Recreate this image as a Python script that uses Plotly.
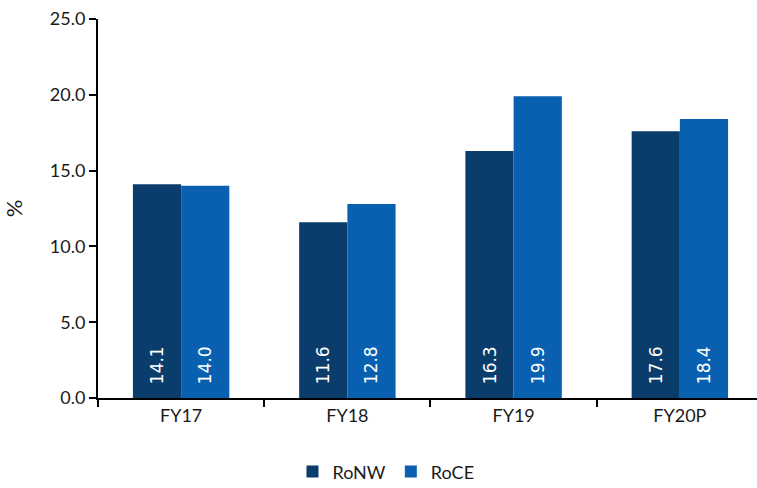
import plotly.graph_objects as go

categories = ["FY17", "FY18", "FY19", "FY20P"]
ronw = [14.1, 11.6, 16.3, 17.6]
roce = [14.0, 12.8, 19.9, 18.4]
series_names = ["RoNW", "RoCE"]
colors = ["#0A3C6C", "#0A60B0"]

fig = go.Figure()
for name, vals, col in zip(series_names, [ronw, roce], colors):
    fig.add_trace(go.Bar(
        x=categories, y=vals, name=name,
        marker=dict(color=col, line=dict(width=0)),
        text=["\u00a0\u00a0" + f"{v:.1f}" for v in vals],
        textposition="inside", insidetextanchor="start", textangle=-90,
        textfont=dict(color="white", size=17, family="DejaVu Sans"),
        cliponaxis=False,
    ))

fig.update_layout(
    width=757, height=488,
    margin=dict(l=98, r=0, t=19, b=90, autoexpand=False),
    plot_bgcolor="white", paper_bgcolor="white",
    barmode="group", bargap=0.42, bargroupgap=0,
    font=dict(family="Lato", size=18, color="#1a1a1a"),
    legend=dict(orientation="h", x=0.437, xanchor="center", y=-0.195, yanchor="middle",
                font=dict(size=18), itemwidth=30, traceorder="normal"),
    uniformtext=dict(mode=False),
)
fig.update_xaxes(
    type="category", range=[-0.5, 3.464], tickson="boundaries",
    showline=True, linecolor="black", linewidth=2,
    ticks="outside", ticklen=7, tickcolor="black", tickwidth=1.5,
    showgrid=False, zeroline=False,
)
fig.update_yaxes(
    range=[0, 25], dtick=5, tickformat=".1f",
    showline=True, linecolor="black", linewidth=2,
    ticks="outside", ticklen=7, tickcolor="black", tickwidth=1.5,
    showgrid=False, zeroline=False,
    title=dict(text="%", standoff=22),
)
fig.write_html("out.html")
